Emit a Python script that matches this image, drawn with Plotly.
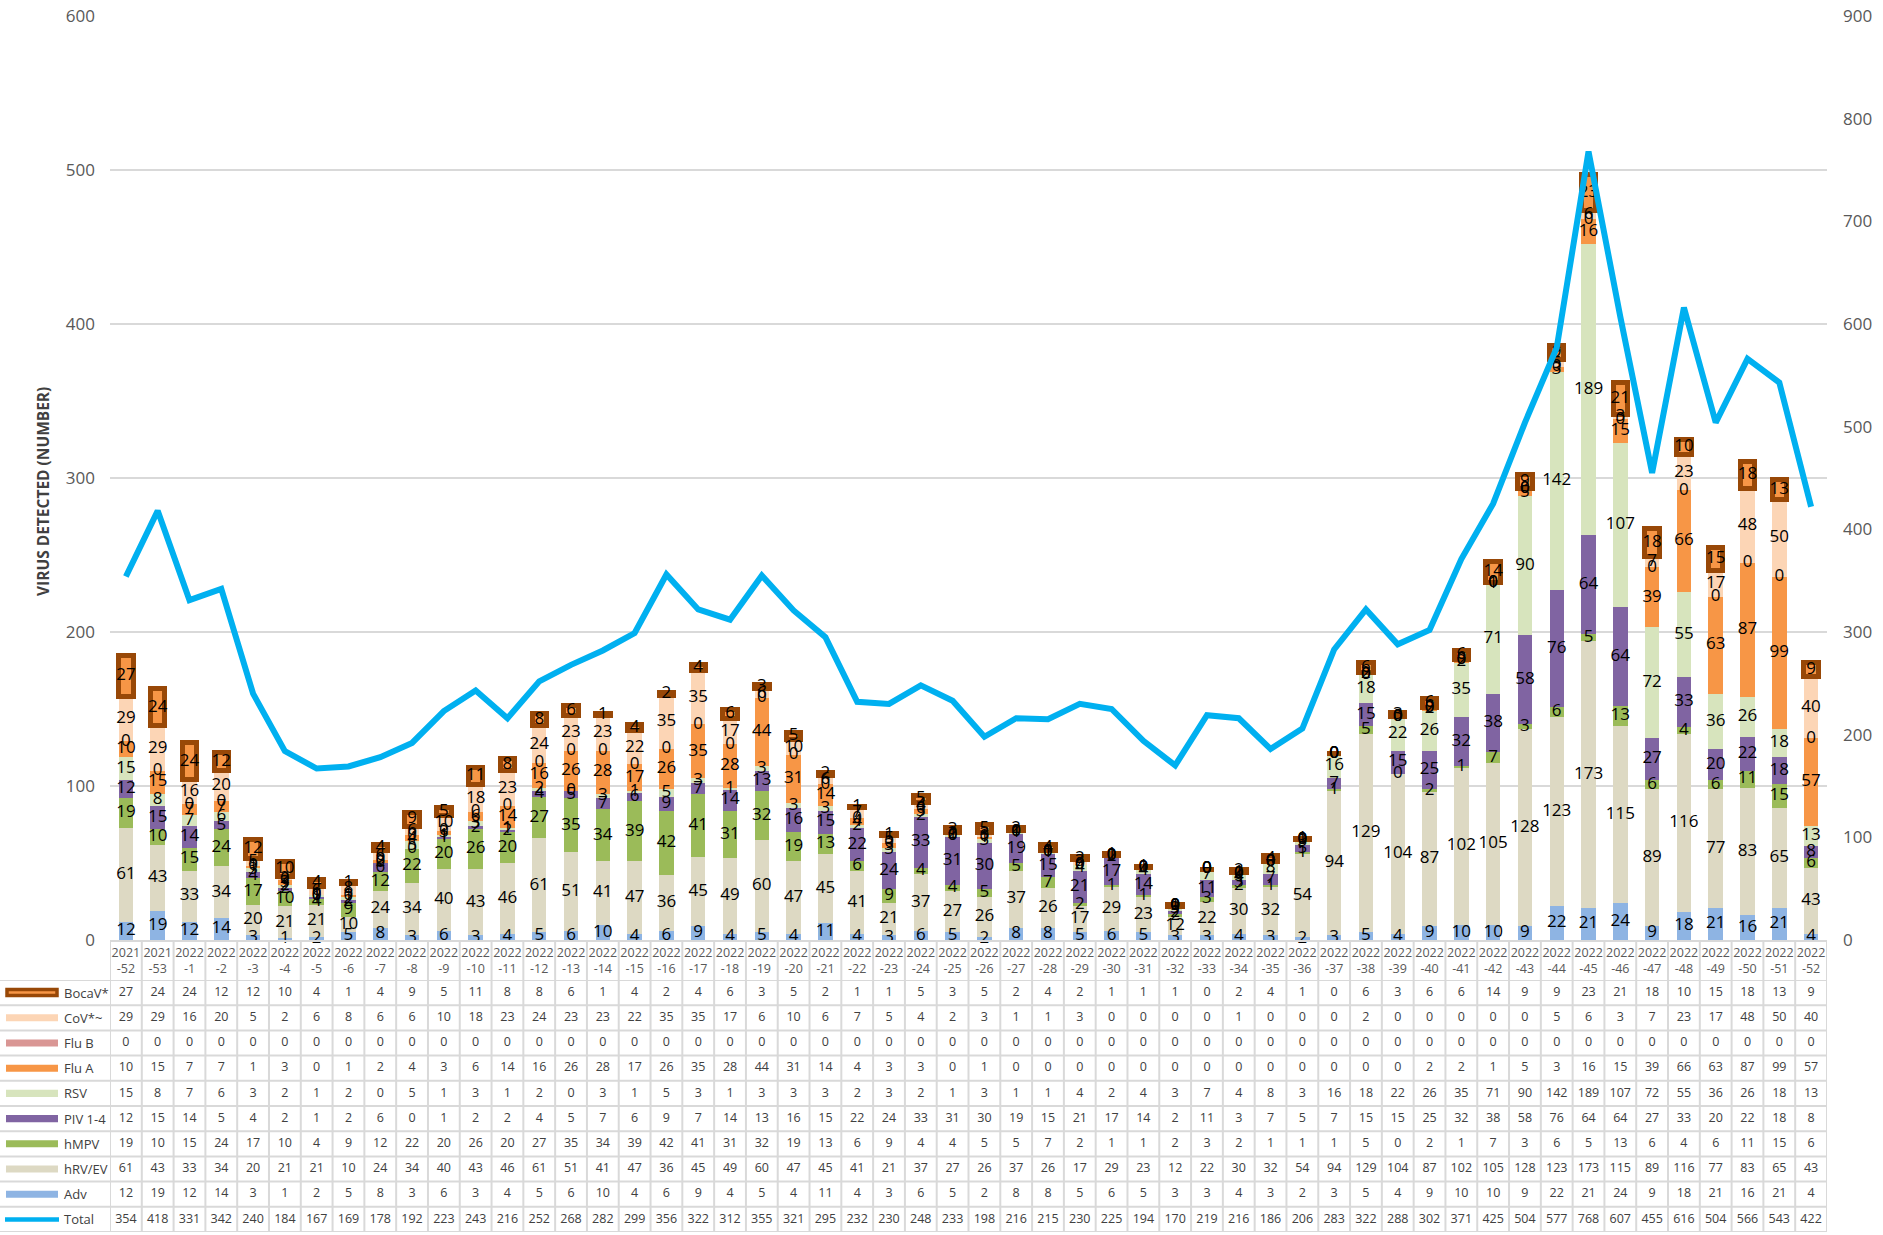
import numpy as np
import plotly.graph_objects as go

weeks = ["2021-52", "2021-53",
         "2022-1", "2022-2", "2022-3", "2022-4", "2022-5", "2022-6", "2022-7", "2022-8", "2022-9", "2022-10",
         "2022-11", "2022-12", "2022-13", "2022-14", "2022-15", "2022-16", "2022-17", "2022-18", "2022-19", "2022-20",
         "2022-21", "2022-22", "2022-23", "2022-24", "2022-25", "2022-26", "2022-27", "2022-28", "2022-29", "2022-30",
         "2022-31", "2022-32", "2022-33", "2022-34", "2022-35", "2022-36", "2022-37", "2022-38", "2022-39", "2022-40",
         "2022-41", "2022-42", "2022-43", "2022-44", "2022-45", "2022-46", "2022-47", "2022-48", "2022-49", "2022-50",
         "2022-51", "2022-52"]
week_ticks = [w.replace("-", "<br>-") for w in weeks]

bocav = [27, 24, 24, 12, 12, 10, 4, 1, 4, 9, 5, 11, 8, 8, 6, 1, 4, 2, 4, 6, 3, 5, 2, 1, 1, 5, 3, 5, 2, 4, 2, 1,
         1, 1, 0, 2, 4, 1, 0, 6, 3, 6, 6, 14, 9, 9, 23, 21, 18, 10, 15, 18, 13, 9]
cov = [29, 29, 16, 20, 5, 2, 6, 8, 6, 6, 10, 18, 23, 24, 23, 23, 22, 35, 35, 17, 6, 10, 6, 7, 5, 4, 2, 3, 1, 1, 3, 0,
       0, 0, 0, 1, 0, 0, 0, 2, 0, 0, 0, 0, 0, 5, 6, 3, 7, 23, 17, 48, 50, 40]
flub = [0, 0, 0, 0, 0, 0, 0, 0, 0, 0, 0, 0, 0, 0, 0, 0, 0, 0, 0, 0, 0, 0, 0, 0, 0, 0, 0,
        0, 0, 0, 0, 0, 0, 0, 0, 0, 0, 0, 0, 0, 0, 0, 0, 0, 0, 0, 0, 0, 0, 0, 0, 0, 0, 0]
flua = [10, 15, 7, 7, 1, 3, 0, 1, 2, 4, 3, 6, 14, 16, 26, 28, 17, 26, 35, 28, 44, 31, 14, 4, 3, 3, 0, 1, 0, 0, 0, 0,
        0, 0, 0, 0, 0, 0, 0, 0, 0, 2, 2, 1, 5, 3, 16, 15, 39, 66, 63, 87, 99, 57]
rsv = [15, 8, 7, 6, 3, 2, 1, 2, 0, 5, 1, 3, 1, 2, 0, 3, 1, 5, 3, 1, 3, 3, 3, 2, 3, 2, 1, 3, 1, 1, 4, 2,
       4, 3, 7, 4, 8, 3, 16, 18, 22, 26, 35, 71, 90, 142, 189, 107, 72, 55, 36, 26, 18, 13]
piv = [12, 15, 14, 5, 4, 2, 1, 2, 6, 0, 1, 2, 2, 4, 5, 7, 6, 9, 7, 14, 13, 16, 15, 22, 24, 33, 31, 30, 19, 15, 21, 17,
       14, 2, 11, 3, 7, 5, 7, 15, 15, 25, 32, 38, 58, 76, 64, 64, 27, 33, 20, 22, 18, 8]
hmpv = [19, 10, 15, 24, 17, 10, 4, 9, 12, 22, 20, 26, 20, 27, 35, 34, 39, 42, 41, 31, 32, 19, 13, 6, 9, 4, 4, 5, 5, 7, 2, 1,
        1, 2, 3, 2, 1, 1, 1, 5, 0, 2, 1, 7, 3, 6, 5, 13, 6, 4, 6, 11, 15, 6]
hrv = [61, 43, 33, 34, 20, 21, 21, 10, 24, 34, 40, 43, 46, 61, 51, 41, 47, 36, 45, 49, 60, 47, 45, 41, 21, 37, 27, 26, 37, 26, 17, 29,
       23, 12, 22, 30, 32, 54, 94, 129, 104, 87, 102, 105, 128, 123, 173, 115, 89, 116, 77, 83, 65, 43]
adv = [12, 19, 12, 14, 3, 1, 2, 5, 8, 3, 6, 3, 4, 5, 6, 10, 4, 6, 9, 4, 5, 4, 11, 4, 3, 6, 5, 2, 8, 8, 5, 6,
       5, 3, 3, 4, 3, 2, 3, 5, 4, 9, 10, 10, 9, 22, 21, 24, 9, 18, 21, 16, 21, 4]
total = [354, 418, 331, 342, 240, 184, 167, 169, 178, 192, 223, 243, 216, 252, 268, 282, 299, 356, 322, 312, 355, 321,
         295, 232, 230, 248, 233, 198, 216, 215, 230, 225, 194, 170, 219, 216, 186, 206, 283, 322, 288, 302,
         371, 425, 504, 577, 768, 607, 455, 616, 504, 566, 543, 422]

# stacking order bottom -> top
stack_names = ["Adv", "hRV/EV", "hMPV", "PIV 1-4", "RSV", "Flu A", "Flu B", "CoV*~", "BocaV*"]
stack_values = [adv, hrv, hmpv, piv, rsv, flua, flub, cov, bocav]
colors = {"Adv": "#8EB4E3", "hRV/EV": "#DDD9C3", "hMPV": "#9BBB59", "PIV 1-4": "#8064A2",
          "RSV": "#D7E4BD", "Flu A": "#F79646", "Flu B": "#D99694", "CoV*~": "#FCD5B5",
          "BocaV*": "#F79646"}
BOCA_EDGE = "#984807"
TOTAL_COLOR = "#00B0F0"

# table rows top -> bottom
table_names = ["BocaV*", "CoV*~", "Flu B", "Flu A", "RSV", "PIV 1-4", "hMPV", "hRV/EV", "Adv", "Total"]
table_values = [bocav, cov, flub, flua, rsv, piv, hmpv, hrv, adv, total]

W, H = 1883, 1235
ML, MR, MT, MB = 110, 56, 16, 3
PW = W - ML - MR
PH = H - MT - MB
def py(pix):  # pixel y -> paper y
    return (H - MB - pix) / PH
def px(pix):  # pixel x -> paper x
    return (pix - ML) / PW

FONT = "Open Sans"
fig = go.Figure()

base = np.zeros(len(weeks))
lab_x, lab_y, lab_t = [], [], []
for name, vals in zip(stack_names, stack_values):
    v = np.array(vals, dtype=float)
    is_boca = name == "BocaV*"
    fig.add_trace(go.Bar(
        x=weeks, y=vals, name=name,
        marker=dict(color=colors[name],
                    line=dict(color=BOCA_EDGE if is_boca else colors[name], width=5 if is_boca else 0)),
        hoverinfo="skip", showlegend=False))
    mids = base + v / 2
    lab_x += weeks
    lab_y += list(mids)
    lab_t += [str(int(a)) for a in vals]
    base = base + v

fig.add_trace(go.Scatter(x=weeks, y=total, yaxis="y2", mode="lines",
                         line=dict(color=TOTAL_COLOR, width=6), showlegend=False, hoverinfo="skip"))

fig.add_trace(go.Scatter(x=lab_x, y=lab_y, text=lab_t, mode="text", cliponaxis=False,
                         textfont=dict(family=FONT, size=17, color="#000000"),
                         showlegend=False, hoverinfo="skip"))

# data table
for name, vals in zip(table_names, table_values):
    fig.add_trace(go.Scatter(x=weeks, y=[name] * len(weeks), yaxis="y3", mode="text",
                             text=[str(v) for v in vals], cliponaxis=False,
                             textfont=dict(family=FONT, size=12.5, color="#404040"),
                             showlegend=False, hoverinfo="skip"))

y_dom = [py(940), 1.0]
t_dom = [0.0, py(980)]

fig.update_layout(
    width=W, height=H, margin=dict(l=ML, r=MR, t=MT, b=MB, autoexpand=False),
    paper_bgcolor="white", plot_bgcolor="white",
    barmode="stack", bargap=0.545,
    font=dict(family=FONT, color="#595959"),
    xaxis=dict(type="category", categoryorder="array", categoryarray=weeks, range=[-0.5, len(weeks) - 0.5],
               tickmode="array", tickvals=weeks, ticktext=week_ticks, tickangle=0,
               tickfont=dict(size=12.5, color="#595959"), ticks="", showgrid=False,
               showline=True, linecolor="#D9D9D9", linewidth=2, anchor="y", zeroline=False),
    yaxis=dict(domain=y_dom, range=[0, 600], dtick=100, showgrid=True, gridcolor="#D9D9D9", gridwidth=1.5,
               zeroline=False, ticks="", ticklabelstandoff=14, tickfont=dict(size=17, color="#595959"),
               showline=False),
    yaxis2=dict(domain=y_dom, overlaying="y", side="right", range=[0, 900], dtick=100, showgrid=False,
                zeroline=False, ticks="", ticklabelstandoff=15, tickfont=dict(size=17, color="#595959"),
                showline=False, anchor="x"),
    yaxis3=dict(domain=t_dom, type="category", categoryorder="array", categoryarray=table_names,
                range=[len(table_names) - 0.5, -0.5], showticklabels=False, showgrid=False,
                zeroline=False, showline=False, anchor="x"),
    showlegend=False,
)

shapes = []
GRID = "#D9D9D9"
# horizontal table lines
for i in range(len(table_names) + 1):
    shapes.append(dict(type="line", xref="paper", yref="y3", x0=px(0), x1=1.0, y0=i - 0.5, y1=i - 0.5,
                       line=dict(color=GRID, width=2), layer="below"))
# vertical table lines
for i in range(len(weeks) + 1):
    shapes.append(dict(type="line", xref="x", yref="paper", x0=i - 0.5, x1=i - 0.5, y0=0, y1=py(940),
                       line=dict(color=GRID, width=2), layer="below"))
# legend keys
key_x0, key_x1 = px(6), px(58)
for i, name in enumerate(table_names):
    if name == "BocaV*":
        shapes.append(dict(type="rect", xref="paper", yref="y3", x0=px(7), x1=px(57), y0=i - 0.12, y1=i + 0.12,
                           fillcolor=colors[name], line=dict(color=BOCA_EDGE, width=3.5)))
    elif name == "Total":
        shapes.append(dict(type="line", xref="paper", yref="y3", x0=px(5), x1=px(59), y0=i, y1=i,
                           line=dict(color=TOTAL_COLOR, width=4.5)))
    else:
        shapes.append(dict(type="rect", xref="paper", yref="y3", x0=key_x0, x1=key_x1, y0=i - 0.14, y1=i + 0.14,
                           fillcolor=colors[name], line=dict(width=0)))
fig.update_layout(shapes=shapes)

annotations = []
for i, name in enumerate(table_names):
    annotations.append(dict(xref="paper", yref="y3", x=px(62), y=i, text=name, showarrow=False,
                            xanchor="left", yanchor="middle", font=dict(family=FONT, size=13, color="#404040")))
annotations.append(dict(xref="paper", yref="paper", x=px(43), y=py(492), text="<b>VIRUS DETECTED (NUMBER)</b>",
                        textangle=-90, showarrow=False, xanchor="center", yanchor="middle",
                        font=dict(family=FONT, size=15.5, color="#404040")))
fig.update_layout(annotations=annotations)

fig.write_html("out.html", config={"displayModeBar": False},
               post_script="document.body.style.margin='0';document.body.style.overflow='hidden';")
